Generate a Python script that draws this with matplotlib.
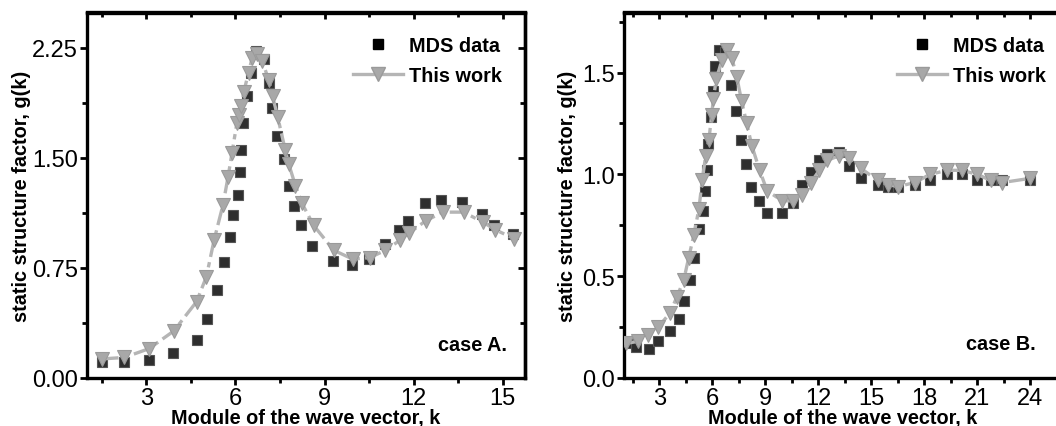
import matplotlib
matplotlib.use('Agg')
import matplotlib.pyplot as plt
from matplotlib.lines import Line2D
from matplotlib.ticker import MultipleLocator

plt.rcParams['font.family'] = ['Liberation Sans', 'DejaVu Sans']

# case A data
k_mds_a = [1.50, 2.26, 3.09, 3.91, 4.71, 5.04, 5.37, 5.62, 5.80, 5.93, 6.10, 6.14,
           6.18, 6.26, 6.40, 6.52, 6.70, 6.96, 7.12, 7.24, 7.40, 7.65, 7.79, 7.98,
           8.21, 8.59, 9.28, 9.92, 10.49, 11.03, 11.51, 11.82, 12.39, 12.93, 13.64,
           14.30, 14.70, 15.36]
g_mds_a = [0.11, 0.11, 0.12, 0.17, 0.26, 0.40, 0.60, 0.79, 0.96, 1.11, 1.25, 1.40,
           1.55, 1.74, 1.92, 2.08, 2.23, 2.17, 2.01, 1.84, 1.65, 1.49, 1.31, 1.17,
           1.04, 0.90, 0.80, 0.77, 0.81, 0.91, 1.01, 1.07, 1.19, 1.21, 1.20,
           1.12, 1.04, 0.98]
k_fit_a = [1.50, 2.26, 3.09, 3.92, 4.69, 5.02, 5.28, 5.58, 5.75, 5.88, 6.05, 6.11,
           6.20, 6.28, 6.44, 6.56, 6.73, 6.90, 7.12, 7.25, 7.42, 7.68, 7.79, 8.02,
           8.24, 8.63, 9.31, 9.95, 10.52, 11.05, 11.55, 11.86, 12.40, 12.98, 13.68,
           14.35, 14.75, 15.38]
g_fit_a = [0.13, 0.14, 0.20, 0.32, 0.52, 0.69, 0.94, 1.18, 1.37, 1.53, 1.74, 1.79,
           1.85, 1.95, 2.08, 2.18, 2.21, 2.16, 2.03, 1.92, 1.78, 1.55, 1.46, 1.31,
           1.19, 1.04, 0.87, 0.81, 0.82, 0.87, 0.94, 0.99, 1.07, 1.13, 1.13,
           1.06, 1.01, 0.95]

# case B data
k_mds_b = [1.22, 1.70, 2.41, 2.94, 3.61, 4.09, 4.41, 4.76, 4.99, 5.24, 5.47, 5.56,
           5.71, 5.75, 5.94, 6.06, 6.15, 6.38, 6.71, 7.05, 7.34, 7.62, 7.91, 8.18,
           8.64, 9.10, 9.96, 10.59, 11.06, 11.58, 12.06, 12.50, 13.17, 13.74, 14.41,
           15.36, 15.94, 16.51, 17.47, 18.33, 19.28, 20.14, 21.00, 21.77, 22.43, 23.96]
g_mds_b = [0.17, 0.15, 0.14, 0.18, 0.23, 0.29, 0.38, 0.48, 0.59, 0.73, 0.82, 0.92,
           1.02, 1.15, 1.28, 1.41, 1.53, 1.61, 1.60, 1.44, 1.31, 1.17, 1.05, 0.94,
           0.87, 0.81, 0.81, 0.86, 0.95, 1.01, 1.07, 1.10, 1.11, 1.04, 0.98,
           0.95, 0.94, 0.94, 0.95, 0.97, 1.00, 1.00, 0.97, 0.97, 0.97, 0.97]
k_fit_b = [1.13, 1.80, 2.37, 2.94, 3.61, 4.00, 4.38, 4.66, 4.95, 5.24, 5.43, 5.62,
           5.81, 5.96, 6.06, 6.23, 6.54, 6.86, 7.11, 7.38, 7.66, 7.95, 8.24, 8.68,
           9.10, 9.96, 10.59, 11.06, 11.58, 12.06, 12.50, 13.17, 13.74, 14.41,
           15.36, 15.94, 16.51, 17.47, 18.33, 19.28, 20.14, 21.00, 21.77, 22.43, 23.96]
g_fit_b = [0.17, 0.18, 0.21, 0.25, 0.32, 0.40, 0.48, 0.59, 0.70, 0.83, 0.97, 1.09,
           1.17, 1.29, 1.37, 1.47, 1.56, 1.61, 1.57, 1.48, 1.36, 1.25, 1.14, 1.02,
           0.92, 0.87, 0.87, 0.90, 0.96, 1.02, 1.07, 1.09, 1.08, 1.03,
           0.97, 0.95, 0.94, 0.96, 1.00, 1.02, 1.02, 1.00, 0.97, 0.96, 0.98]

dark = '#2e2e2e'
grey = '#a8a8a8'

W, H = 1056, 427


def draw_panel(ax, k_mds, g_mds, k_fit, g_fit, xlim, ylim, ymaj, yfmt, case_txt,
               leg_xy, case_xy, ylab_x, draw_right=True):
    ax.plot(k_mds, g_mds, ls='none', marker='s', ms=7.5, color=dark,
            mec='#555555', mew=0.8, zorder=2)
    ax.plot(k_fit, g_fit, ls=(0, (5, 1.6, 1.6, 1.6)), lw=2.4, color='#b5b5b5',
            marker='v', ms=9.5, mfc=grey, mec='#9a9a9a', mew=0.8, zorder=3)
    ax.set_xlim(*xlim)
    ax.set_ylim(*ylim)
    ax.xaxis.set_major_locator(MultipleLocator(3))
    ax.xaxis.set_minor_locator(MultipleLocator(1.5))
    ax.yaxis.set_major_locator(MultipleLocator(ymaj))
    ax.yaxis.set_minor_locator(MultipleLocator(ymaj / 2))
    ax.yaxis.set_major_formatter(yfmt)
    ax.tick_params(which='both', direction='out', width=2, labelsize=17,
                   top=False, right=False, pad=1.5)
    ax.tick_params(which='major', length=5)
    ax.tick_params(which='minor', length=3.5)
    for s in ax.spines.values():
        s.set_linewidth(2.4)

    # mirrored ticks on top / right point the same way as the primary ones
    top = ax.secondary_xaxis('top')
    top.xaxis.set_major_locator(MultipleLocator(3))
    top.xaxis.set_minor_locator(MultipleLocator(1.5))
    top.tick_params(which='both', direction='in', width=2, labeltop=False)
    top.tick_params(which='major', length=5)
    top.tick_params(which='minor', length=3.5)
    top.spines['top'].set_linewidth(2.4)
    if draw_right:
        rt = ax.secondary_yaxis('right')
        rt.yaxis.set_major_locator(MultipleLocator(ymaj))
        rt.yaxis.set_minor_locator(MultipleLocator(ymaj / 2))
        rt.tick_params(which='both', direction='in', width=2, labelright=False)
        rt.tick_params(which='major', length=5)
        rt.tick_params(which='minor', length=3.5)
        rt.spines['right'].set_linewidth(2.4)

    ax.set_xlabel('Module of the wave vector, k', fontsize=14.3, fontweight='bold')
    ax.xaxis.set_label_coords(0.5, -0.083)
    ax.set_ylabel('static structure factor, g(k)', fontsize=14.3, fontweight='bold')
    ax.yaxis.set_label_coords(ylab_x, 0.5)

    h1 = Line2D([], [], ls='none', marker='s', ms=7.5, color='black')
    h2 = Line2D([], [], ls='-', lw=2.4, color='#b5b5b5', marker='v', ms=9.5,
                mfc=grey, mec='#9a9a9a')
    ax.legend([h1, h2], ['MDS data', 'This work'], loc='upper right',
              bbox_to_anchor=leg_xy, frameon=False,
              prop={'weight': 'bold', 'size': 14.3},
              handlelength=2.5, handletextpad=0.3, borderpad=0, borderaxespad=0,
              labelspacing=0.55)
    ax.text(case_xy[0], case_xy[1], case_txt, transform=ax.transAxes, ha='right',
            va='baseline', fontsize=14.3, fontweight='bold')


fig = plt.figure(figsize=(W / 100, H / 100), dpi=100)
bot = 1 - 379 / H
hgt = (379 - 13.5) / H
ax1 = fig.add_axes([87 / W, bot, 438 / W, hgt])
ax2 = fig.add_axes([624 / W, bot, 438 / W, hgt])

draw_panel(ax1, k_mds_a, g_mds_a, k_fit_a, g_fit_a, (1.0, 15.75), (0, 2.49), 0.75,
           lambda v, p: f'{v:.2f}', 'case A.', (0.947, 0.935), (0.959, 0.077), -0.128)
draw_panel(ax2, k_mds_b, g_mds_b, k_fit_b, g_fit_b, (1.0, 25.8), (0, 1.795), 0.5,
           lambda v, p: f'{v:.1f}', 'case B.', (0.963, 0.935), (0.94, 0.08), -0.108,
           draw_right=False)

fig.savefig('out.png', dpi=100)
